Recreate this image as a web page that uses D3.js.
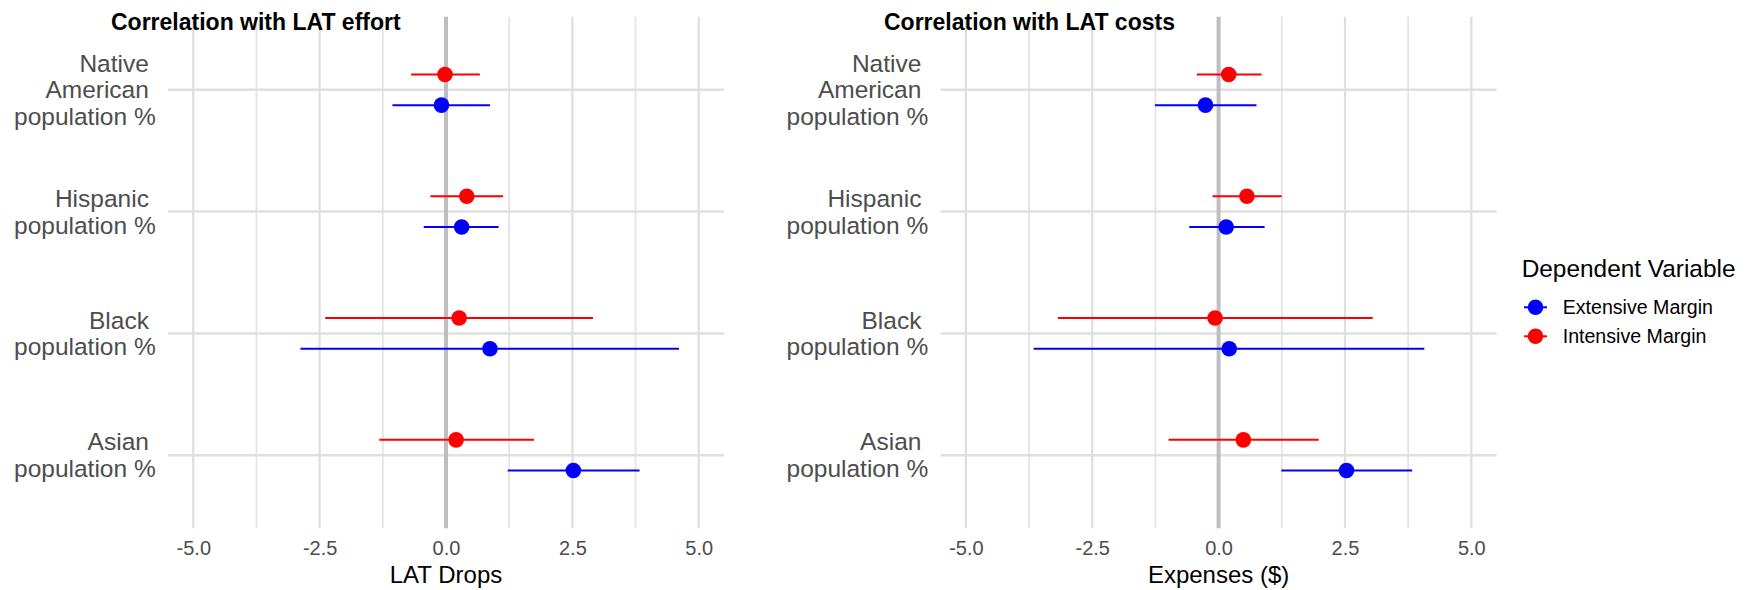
<!DOCTYPE html>
<html>
<head>
<meta charset="utf-8">
<script src="https://cdn.jsdelivr.net/npm/d3@7"></script>
<style>
  html, body { margin: 0; padding: 0; background: #ffffff; }
  svg { display: block; }
  text { font-family: "Liberation Sans", Arial, Helvetica, sans-serif; }
</style>
</head>
<body>
<svg id="chart" width="1748" height="590"></svg>
<script>
// ---------------- DATA ----------------
const categories = ["Native American population %", "Hispanic population %", "Black population %", "Asian population %"];
const categoryLines = [["Native", "American", "population %"], ["Hispanic", "population %"], ["Black", "population %"], ["Asian", "population %"]];

const seriesNames = ["Extensive Margin", "Intensive Margin"];
const seriesColors = ["#0000ff", "#ff0000"];

// Panel 1: Correlation with LAT effort (LAT Drops)
const effortExtEst = [-0.09, 0.31, 0.87, 2.52];
const effortExtLo  = [-1.06, -0.44, -2.88, 1.22];
const effortExtHi  = [0.87, 1.04, 4.61, 3.83];
const effortIntEst = [-0.02, 0.41, 0.26, 0.20];
const effortIntLo  = [-0.69, -0.31, -2.39, -1.32];
const effortIntHi  = [0.67, 1.13, 2.91, 1.74];

// Panel 2: Correlation with LAT costs (Expenses ($))
const costExtEst = [-0.26, 0.15, 0.21, 2.53];
const costExtLo  = [-1.26, -0.58, -3.66, 1.24];
const costExtHi  = [0.75, 0.91, 4.07, 3.83];
const costIntEst = [0.20, 0.56, -0.07, 0.49];
const costIntLo  = [-0.43, -0.12, -3.18, -0.99];
const costIntHi  = [0.85, 1.25, 3.05, 1.98];

const xMajorTicks = [-5, -2.5, 0, 2.5, 5];
const xMinorTicks = [-3.75, -1.25, 1.25, 3.75];
const xDomain = [-5.5, 5.5];

const panelTitles = ["Correlation with LAT effort", "Correlation with LAT costs"];
const axisTitles = ["LAT Drops", "Expenses ($)"];
const legendTitle = "Dependent Variable";

// ---------------- LAYOUT ----------------
const svg = d3.select("#chart");
const panelTop = 16.7, panelBottom = 528.3;

const panels = [
  { x0: 168, x1: 724, labelRight: 155.7, titleX: 111, title: panelTitles[0], axisTitle: axisTitles[0],
    series: [
      { est: effortExtEst, lo: effortExtLo, hi: effortExtHi, s: 0 },
      { est: effortIntEst, lo: effortIntLo, hi: effortIntHi, s: 1 }
    ] },
  { x0: 940.6, x1: 1496.6, labelRight: 928.2, titleX: 884, title: panelTitles[1], axisTitle: axisTitles[1],
    series: [
      { est: costExtEst, lo: costExtLo, hi: costExtHi, s: 0 },
      { est: costIntEst, lo: costIntLo, hi: costIntHi, s: 1 }
    ] }
];

const y = d3.scalePoint().domain(categories).range([panelTop, panelBottom]).padding(0.6);
const dodge = y.step() * 0.126;
const dodgeOffset = [dodge, -dodge]; // Extensive below, Intensive above
const pointR = 7.8;

panels.forEach(p => {
  const x = d3.scaleLinear().domain(xDomain).range([p.x0, p.x1]);
  const g = svg.append("g");

  // minor vertical gridlines
  g.selectAll(".vminor").data(xMinorTicks).enter().append("line")
    .attr("x1", d => x(d)).attr("x2", d => x(d))
    .attr("y1", panelTop).attr("y2", panelBottom)
    .attr("stroke", "#e3e3e3").attr("stroke-width", 1.7);

  // major vertical gridlines
  g.selectAll(".vmajor").data(xMajorTicks).enter().append("line")
    .attr("x1", d => x(d)).attr("x2", d => x(d))
    .attr("y1", panelTop).attr("y2", panelBottom)
    .attr("stroke", "#dedede").attr("stroke-width", 2.2);

  // horizontal gridlines at categories
  g.selectAll(".hmajor").data(categories).enter().append("line")
    .attr("x1", p.x0).attr("x2", p.x1)
    .attr("y1", d => y(d)).attr("y2", d => y(d))
    .attr("stroke", "#e0e0e0").attr("stroke-width", 2.5);

  // zero reference line
  g.append("line")
    .attr("x1", x(0)).attr("x2", x(0))
    .attr("y1", panelTop).attr("y2", panelBottom)
    .attr("stroke", "#bebebe").attr("stroke-width", 4);

  // error bars and points
  p.series.forEach(sr => {
    const rows = categories.map((c, i) => ({ c, est: sr.est[i], lo: sr.lo[i], hi: sr.hi[i] }));
    g.selectAll(null).data(rows).enter().append("line")
      .attr("x1", d => x(d.lo)).attr("x2", d => x(d.hi))
      .attr("y1", d => y(d.c) + dodgeOffset[sr.s]).attr("y2", d => y(d.c) + dodgeOffset[sr.s])
      .attr("stroke", seriesColors[sr.s]).attr("stroke-width", 2);
  });
  p.series.forEach(sr => {
    const rows = categories.map((c, i) => ({ c, est: sr.est[i] }));
    g.selectAll(null).data(rows).enter().append("circle")
      .attr("cx", d => x(d.est))
      .attr("cy", d => y(d.c) + dodgeOffset[sr.s])
      .attr("r", pointR)
      .attr("fill", seriesColors[sr.s]);
  });

  // x axis tick labels
  const axis = d3.axisBottom(x).tickValues(xMajorTicks).tickSize(0).tickPadding(12.5)
    .tickFormat(d => d.toFixed(1));
  const ag = g.append("g").attr("transform", `translate(0,${panelBottom})`).call(axis);
  ag.select(".domain").remove();
  ag.selectAll("text").attr("font-size", 20).attr("fill", "#4d4d4d")
    .attr("font-family", '"Liberation Sans", Arial, sans-serif');

  // x axis title
  g.append("text").attr("x", (p.x0 + p.x1) / 2).attr("y", 583)
    .attr("text-anchor", "middle").attr("font-size", 24).attr("fill", "#000")
    .text(p.axisTitle);

  // y axis labels (multi-line, right aligned with trailing space)
  const lh = 26.7;
  categories.forEach((c, i) => {
    const lines = categoryLines[i];
    const n = lines.length;
    const t = g.append("text").attr("text-anchor", "end").attr("font-size", 24.5).attr("fill", "#4d4d4d");
    lines.forEach((ln, k) => {
      const txt = ln.endsWith("%") ? ln : ln + "\u00a0";
      t.append("tspan").attr("x", p.labelRight)
        .attr("y", y(c) + (k - (n - 1) / 2) * lh + 8.6)
        .text(txt);
    });
  });

  // panel title
  g.append("text").attr("x", p.titleX).attr("y", 30)
    .attr("font-size", 23).attr("font-weight", "bold").attr("fill", "#000")
    .text(p.title);
});

// ---------------- LEGEND ----------------
const lg = svg.append("g");
lg.append("text").attr("x", 1521.7).attr("y", 276.7).attr("font-size", 24.4).attr("fill", "#000").text(legendTitle);
const keyY = d3.scalePoint().domain(seriesNames).range([307.3, 336.3]);
seriesNames.forEach((s, i) => {
  lg.append("line").attr("x1", 1524).attr("x2", 1547)
    .attr("y1", keyY(s)).attr("y2", keyY(s))
    .attr("stroke", seriesColors[i]).attr("stroke-width", 2);
  lg.append("circle").attr("cx", 1535.5).attr("cy", keyY(s)).attr("r", pointR).attr("fill", seriesColors[i]);
  lg.append("text").attr("x", 1562.7).attr("y", keyY(s) + 6.9)
    .attr("font-size", 19.6).attr("fill", "#000").text(s);
});
</script>
</body>
</html>
